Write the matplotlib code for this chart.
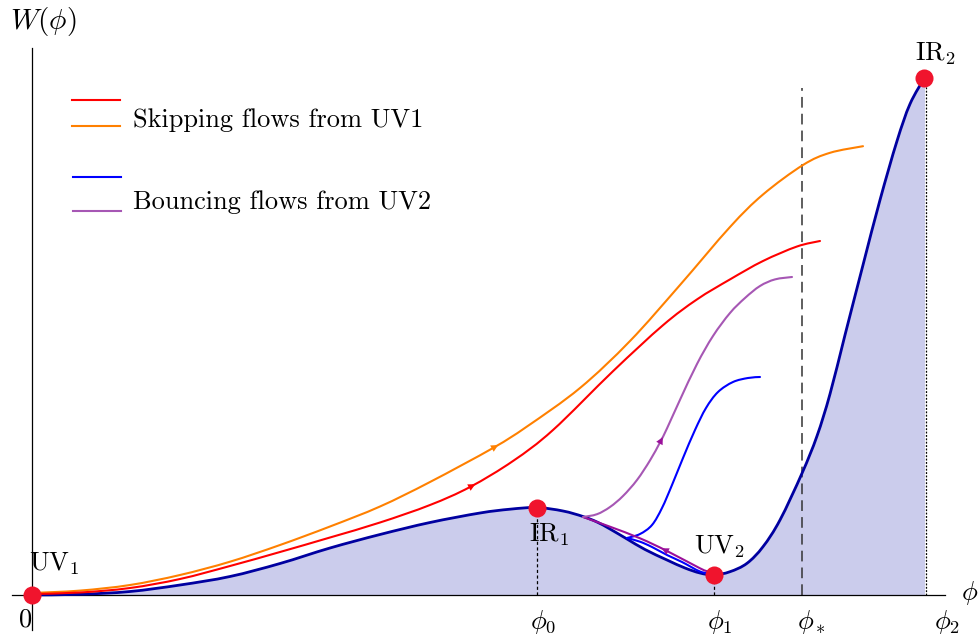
import numpy as np
import matplotlib
matplotlib.use("Agg")
import matplotlib.pyplot as plt
from matplotlib.path import Path
from matplotlib.patches import PathPatch

plt.rcParams['mathtext.fontset'] = 'cm'
plt.rcParams['font.family'] = ['cmr10', 'DejaVu Sans']
plt.rcParams['axes.formatter.use_mathtext'] = True

# ---------------- data ----------------
# superpotential W(phi)
W_phi = [0, 48, 98, 148, 198, 248, 298, 348, 398, 448, 478, 505, 531, 551, 565, 578,
         595, 613, 635, 653, 668, 682, 698, 715, 731, 748, 770, 785, 798, 813, 831,
         848, 865, 878, 893]
W_val = [0, 0.7, 3.5, 10, 18.5, 31.5, 47, 60.5, 72.5, 82, 85.8, 87.5, 84, 78.5, 73, 66,
         56, 45.5, 35, 27, 22, 20, 23.3, 31.7, 48.3, 75, 121.7, 159, 201, 260, 330,
         395, 454, 491, 518]

# skipping flows from UV1
red_phi = [0, 48, 98, 148, 198, 248, 298, 348, 398, 438, 481, 521, 581, 631, 665, 698, 731, 765, 788]
red_W = [1, 2.5, 7, 16, 29, 43, 57.5, 72.5, 90, 108, 134, 165, 223.8, 269.8, 295.6, 315.6, 334, 348.5, 354]

orange_phi = [0, 48, 98, 148, 198, 248, 298, 348, 398, 461, 495, 548, 598, 648, 698, 731, 771, 798, 831]
orange_W = [2, 4.4, 10, 20, 33.3, 50, 68.5, 88.5, 113, 147, 168.5, 207, 254, 310, 368, 400.5, 430, 442.2, 448.8]

# bouncing flows from UV2 (lower branch to the bounce, then upper branch)
blue_low_phi = [680, 668, 650, 635, 620, 608, 595]
blue_low_W = [21, 23.5, 33, 40, 48, 53.3, 57]
blue_up_phi = [595, 608, 620, 630, 640, 651, 663, 674, 686, 701, 716, 728]
blue_up_W = [57, 61, 70, 87, 110, 137, 165, 187, 203, 213, 217, 218]

purple_low_phi = [676, 668, 635, 608, 578, 551]
purple_low_W = [23.5, 26.7, 44, 56.7, 68.3, 78]
purple_up_phi = [551, 565, 578, 591, 605, 618, 628, 635, 648, 665, 681, 698, 713, 728, 743, 760]
purple_up_W = [78, 80.8, 88, 99, 115, 134.6, 152.6, 166.6, 195.2, 231, 259, 282, 297, 309, 315.6, 318]

# fixed points
fp_phi = [0, 505, 682, 892]
fp_W = [0, 87.5, 20, 517]
fp_labels = [r'$\mathrm{UV}_1$', r'$\mathrm{IR}_1$', r'$\mathrm{UV}_2$', r'$\mathrm{IR}_2$']

phi_star = 770
tick_pos = [505, 682, 770, 893]
tick_labels = [r'$\phi_0$', r'$\phi_1$', r'$\phi_*$', r'$\phi_2$']

C_W = '#0000A0'
C_FILL = '#CBCCEC'
C_RED = '#FF0000'
C_ORANGE = '#FF8000'
C_BLUE = '#0000FF'
C_PURPLE = '#A657B4'
C_PURPLE_D = '#9A109A'
C_DOT = '#F0142D'


def smooth_verts(xs, ys):
    """Smooth cubic (Catmull-Rom style) path through the read points."""
    P = np.column_stack([xs, ys]).astype(float)
    n = len(P)
    verts = [P[0]]
    codes = [Path.MOVETO]
    for i in range(n - 1):
        p0 = P[i - 1] if i > 0 else P[i]
        p1 = P[i]
        p2 = P[i + 1]
        p3 = P[i + 2] if i + 2 < n else P[i + 1]
        c1 = p1 + (p2 - p0) / 6.0
        c2 = p2 - (p3 - p1) / 6.0
        verts += [c1, c2, p2]
        codes += [Path.CURVE4] * 3
    return verts, codes


def smooth_line(xs, ys, color, lw, z):
    v, c = smooth_verts(xs, ys)
    ax.add_patch(PathPatch(Path(v, c), fill=False, edgecolor=color, lw=lw,
                           zorder=z, capstyle='round', joinstyle='round'))


# ---------------- figure ----------------
fig = plt.figure(figsize=(9.79, 6.35), dpi=100)
ax = fig.add_axes([0, 0, 1, 1])
ax.set_xlim(-32, 947)
ax.set_ylim(-40, 595)
ax.axis('off')

# filled region under W
v, c = smooth_verts(W_phi, W_val)
v = v + [(W_phi[-1], 0), (W_phi[0], 0), (W_phi[0], W_val[0])]
c = c + [Path.LINETO, Path.LINETO, Path.CLOSEPOLY]
ax.add_patch(PathPatch(Path(v, c), facecolor=C_FILL, edgecolor='none', zorder=1))
smooth_line(W_phi, W_val, C_W, 2.0, 4)

# axes
ax.plot([-20, 913], [0, 0], color='black', lw=0.9, zorder=3)
ax.plot([0, 0], [-35, 547], color='black', lw=0.9, zorder=3)

# vertical guide lines
ax.plot([505, 505], [0, 87.5], color='black', lw=0.9, ls=(0, (2.5, 2)), zorder=2)
ax.plot([682, 682], [0, 20], color='black', lw=0.9, ls=(0, (2.5, 2)), zorder=2)
ax.plot([894, 894], [0, 517], color='black', lw=0.9, ls=(0, (1.5, 1.2)), zorder=2)
ax.plot([phi_star, phi_star], [0, 507], color='#333333', lw=1.1, ls=(0, (7, 4)), zorder=2)

# flows
smooth_line(orange_phi, orange_W, C_ORANGE, 1.5, 5)
smooth_line(red_phi, red_W, C_RED, 1.5, 5)
smooth_line(blue_low_phi, blue_low_W, C_BLUE, 1.5, 5)
smooth_line(blue_up_phi, blue_up_W, C_BLUE, 1.5, 5)
smooth_line(purple_low_phi, purple_low_W, C_PURPLE_D, 1.5, 5)
smooth_line(purple_up_phi, purple_up_W, C_PURPLE, 1.5, 5)


def arrow_on(xs, ys, i, color):
    x0, y0 = xs[i], ys[i]
    dx, dy = xs[i + 1] - xs[i - 1], ys[i + 1] - ys[i - 1]
    d = np.hypot(dx, dy)
    ux, uy = dx / d, dy / d
    tip = (x0 + ux * 6, y0 + uy * 6)
    tail = (x0 - ux * 4, y0 - uy * 4)
    ax.annotate('', xy=tip, xytext=tail,
                arrowprops=dict(arrowstyle='-|>', mutation_scale=13, color=color,
                                lw=0, shrinkA=0, shrinkB=0), zorder=6)


arrow_on(red_phi, red_W, 9, C_RED)
arrow_on(orange_phi, orange_W, 9, C_ORANGE)
arrow_on(purple_up_phi, purple_up_W, 6, C_PURPLE_D)
arrow_on(purple_low_phi, purple_low_W, 2, C_PURPLE_D)

# fixed points
ax.plot(fp_phi, fp_W, 'o', color=C_DOT, ms=13, mec='none', zorder=7)
label_off = [(22, 31), (12, -27), (6, 28), (11, 24)]
for x, y, lab, (dx, dy) in zip(fp_phi, fp_W, fp_labels, label_off):
    ax.text(x + dx, y + dy, lab, fontsize=19, ha='center', va='center', zorder=8)

# tick labels
tick_dx = [6, 6, 9, 22]
for x, lab, dx in zip(tick_pos, tick_labels, tick_dx):
    ax.text(x + dx, -27, lab, fontsize=19, ha='center', va='center')
ax.text(-7, -25, r'$0$', fontsize=19, ha='center', va='center')
ax.text(938, 2, r'$\phi$', fontsize=19, ha='center', va='center')
ax.text(11, 573, r'$W(\phi)$', fontsize=21, ha='center', va='center')

# legend (drawn by hand, two line samples per entry)
ax.plot([40, 88], [495, 495], color=C_RED, lw=1.5)
ax.plot([40, 88], [469, 469], color=C_ORANGE, lw=1.5)
ax.plot([41, 89], [418.3, 418.3], color=C_BLUE, lw=1.5)
ax.plot([41, 89], [384.3, 384.3], color=C_PURPLE, lw=1.5)
ax.text(101, 475, 'Skipping flows from UV1', fontsize=19, ha='left', va='center')
ax.text(101, 393.3, 'Bouncing flows from UV2', fontsize=19, ha='left', va='center')

fig.savefig('out.png', dpi=100)
